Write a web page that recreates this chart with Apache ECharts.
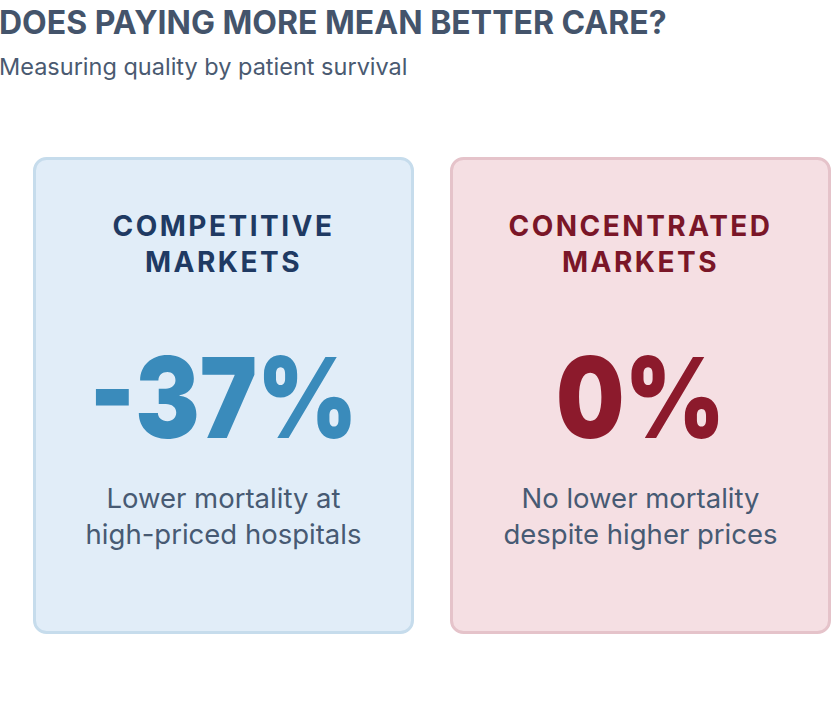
<!DOCTYPE html>
<html>
<head>
<meta charset="utf-8">
<script src="https://cdn.jsdelivr.net/npm/echarts@6/dist/echarts.min.js"></script>
<style>
  html, body { margin: 0; padding: 0; background: #ffffff; }
  #chart { width: 840px; height: 720px; }
</style>
</head>
<body>
<div id="chart"></div>
<script>
// ---- data ----
const titleText = 'DOES PAYING MORE MEAN BETTER CARE?';
const subtitleText = 'Measuring quality by patient survival';
const marketTypes = ['Competitive markets', 'Concentrated markets'];
const headingLines = [['COMPETITIVE', 'MARKETS'], ['CONCENTRATED', 'MARKETS']];
const mortalityChange = [-37, 0];
const captionLines = [['Lower mortality at', 'high-priced hospitals'], ['No lower mortality', 'despite higher prices']];

// ---- styles ----
const FONT = 'Inter';
const palette = [
  { fill: '#e1edf8', border: '#c6dcec', heading: '#1f3a63', big: '#3a8bbb' },
  { fill: '#f5dfe3', border: '#e5c3ca', heading: '#7a1628', big: '#8c1a2c' }
];
const captionColor = '#475a73';
const CARD_W = 381;

function fmtPct(v) { return (v < 0 ? '-' + Math.abs(v) : String(v)) + '%'; }

const chart = echarts.init(document.getElementById('chart'), null, { renderer: 'svg' });

chart.setOption({
  animation: false,
  backgroundColor: '#ffffff',
  title: [{
    text: titleText,
    left: -1,
    top: 6,
    padding: 0,
    textStyle: { fontFamily: FONT, fontSize: 32, fontWeight: 'bold', color: '#44546b' }
  }, {
    text: subtitleText,
    left: -1,
    top: 54,
    padding: 0,
    textStyle: { fontFamily: FONT, fontSize: 23.5, fontWeight: 'normal', color: '#4a5a71' }
  }],
  grid: { left: 33, right: 9, top: 157, bottom: 86 },
  xAxis: { type: 'category', data: marketTypes, show: false },
  yAxis: { type: 'value', min: 0, max: 1, show: false },
  series: [{
    type: 'custom',
    silent: true,
    data: mortalityChange.map((v, i) => [i, 1, v]),
    renderItem: function (params, api) {
      const i = params.dataIndex;
      const top = api.coord([i, 1]);
      const bottom = api.coord([i, 0]);
      const bandW = api.size([1, 0])[0];
      const bandStart = top[0] - bandW / 2;
      const x = i === 0 ? bandStart : bandStart + bandW - CARD_W;
      const y = top[1];
      const h = bottom[1] - top[1];
      const cx = x + CARD_W / 2;
      const c = palette[i];
      const children = [{
        type: 'rect',
        shape: { x: x + 1.5, y: y + 1.5, width: CARD_W - 3, height: h - 3, r: 12 },
        style: { fill: c.fill, stroke: c.border, lineWidth: 3 }
      }];
      headingLines[i].forEach((t, k) => {
        children.push({
          type: 'text',
          x: cx, y: y + 69 + k * 35.7,
          style: { text: t, fill: c.heading, font: 'bold 28px ' + FONT, align: 'center', verticalAlign: 'middle' }
        });
      });
      children.push({
        type: 'text',
        x: cx, y: y + 240,
        scaleX: 0.86,
        style: { text: fmtPct(api.value(2)), fill: c.big, font: '900 112px ' + FONT, align: 'center', verticalAlign: 'middle' }
      });
      captionLines[i].forEach((t, k) => {
        children.push({
          type: 'text',
          x: cx, y: y + 341 + k * 36,
          style: { text: t, fill: captionColor, font: '27.5px ' + FONT, align: 'center', verticalAlign: 'middle' }
        });
      });
      return { type: 'group', children: children };
    }
  }]
});

function applySpacing() {
  const heads = new Set([].concat(...headingLines));
  document.querySelectorAll('#chart text').forEach(el => {
    if (heads.has(el.textContent.trim())) {
      el.setAttribute('letter-spacing', '2.5px');
    }
  });
}
chart.on('finished', applySpacing);
applySpacing();
</script>
</body>
</html>
